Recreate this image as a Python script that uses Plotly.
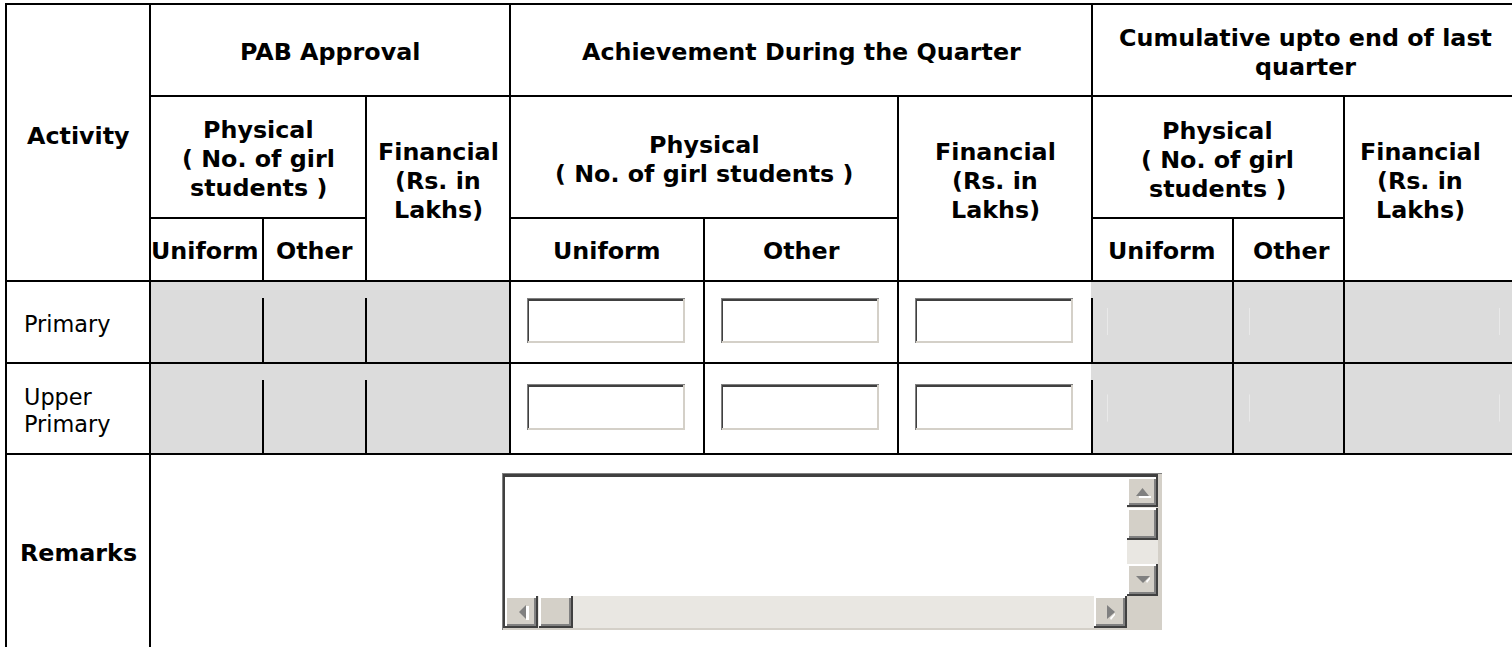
import plotly.graph_objects as go

# ---------------- table content ----------------
group_headers = [["PAB Approval"], ["Achievement During the Quarter"],
                 ["Cumulative upto end of last", "quarter"]]
physical_headers = [["Physical", "( No. of girl", "students )"],
                    ["Physical", "( No. of girl students )"],
                    ["Physical", "( No. of girl", "students )"]]
financial_header = ["Financial", "(Rs. in", "Lakhs)"]
sub_headers = ["Uniform", "Other"]
activity_label = "Activity"
row_labels = [["Primary"], ["Upper", "Primary"]]
remarks_label = "Remarks"

# ---------------- layout geometry (pixels) ----------------
W, H = 1512, 647
X_L, X_ACT = 6, 150
GROUPS = [(150, 263, 366, 510), (510, 704, 898, 1092), (1092, 1233, 1344, 1512)]
Y_TOP, Y_H1, Y_H2, Y_H3 = 4, 96, 218, 281
ROWS = [(281, 363), (363, 454)]
GRAY = "#dcdcdc"
FACE = "#d4d0c8"
DARK = "#404040"
MID = "#808080"
TRACK = "#e9e7e2"
FONT = "DejaVu Sans"
BOLD_SIZE = 23.8
REG_SIZE = 22.4

shapes = []
annotations = []


def box(x0, y0, x1, y1, color):
    shapes.append(dict(type="rect", xref="x", yref="y", x0=x0, y0=y0, x1=x1, y1=y1,
                       fillcolor=color, line=dict(width=0), layer="above"))


def vline(x, y0, y1):
    box(x - 1, y0 - 1, x + 1, y1 + 1, "black")


def hline(y, x0, x1):
    box(x0 - 1, y - 1, x1 + 1, y + 1, "black")


def tri(points, color):
    path = "M " + " L ".join(f"{px},{py}" for px, py in points) + " Z"
    shapes.append(dict(type="path", xref="x", yref="y", path=path, fillcolor=color,
                       line=dict(width=0), layer="above"))


def text(x, y, s, bold=True, anchor="center"):
    annotations.append(dict(x=x, y=y, xref="x", yref="y", text=(f"<b>{s}</b>" if bold else s),
                            showarrow=False, xanchor=anchor, yanchor="middle",
                            font=dict(family=FONT, size=(BOLD_SIZE if bold else REG_SIZE),
                                      color="black")))


def lines(x, ys, parts, bold=True, anchor="center"):
    for y, s in zip(ys, parts):
        text(x, y, s, bold, anchor)


# gray (disabled) cells
for (r0, r1) in ROWS:
    box(GROUPS[0][0], r0, GROUPS[0][3], r1, GRAY)
    box(GROUPS[2][0], r0, W + 2, r1, GRAY)

# grid lines
hline(Y_TOP, X_L, W + 2)
hline(Y_H1, X_ACT, W + 2)
for g in GROUPS:
    hline(Y_H2, g[0], g[2])
hline(Y_H3, X_L, W + 2)
for (r0, r1) in ROWS:
    hline(r1, X_L, W + 2)
vline(X_L, Y_TOP, H + 2)
vline(X_ACT, Y_TOP, H + 2)
for g in GROUPS:
    vline(g[0], Y_TOP, ROWS[-1][1])
    vline(g[2], Y_H1, ROWS[-1][1])
    vline(g[1], Y_H2, ROWS[-1][1])

# vertical lines hidden at top of gray cells
for (r0, r1) in ROWS:
    for xg in (GROUPS[0][1], GROUPS[0][2]):
        box(xg - 1, r0 + 1, xg + 1, r0 + 17, GRAY)
    box(GROUPS[2][0] - 1, r0 + 1, GROUPS[2][0] + 1, r0 + 17, GRAY)
    # faint edges of disabled inputs
    yc = (r0 + r1) / 2
    for xf in (1107, 1249, 1499):
        box(xf, yc - 14, xf + 1, yc + 13, "#e9e9e9")

# input boxes in achievement columns
for (r0, r1) in ROWS:
    yc = (r0 + r1) / 2
    y0, y1 = round(yc - 24), round(yc + 21)
    g = GROUPS[1]
    for (c0, c1) in ((g[0], g[1]), (g[1], g[2]), (g[2], g[3])):
        x0, x1 = c0 + 17, c1 - 19
        box(x0, y0, x1, y1, "white")
        box(x0, y0, x1, y0 + 1, MID)
        box(x0 + 1, y0 + 1, x1 - 1, y0 + 3, DARK)
        box(x0, y0, x0 + 1, y1, MID)
        box(x0 + 1, y0 + 1, x0 + 2, y1 - 1, DARK)
        box(x0 + 1, y1 - 2, x1, y1, FACE)
        box(x1 - 2, y0 + 1, x1, y1, FACE)

# ---------------- remarks textarea ----------------
TX0, TY0, TX1, TY1 = 502, 473, 1162, 630
box(TX0, TY0, TX1, TY1, "white")
box(TX0, TY0, TX1, TY0 + 1, MID)
box(TX0, TY0, TX0 + 1, TY1, MID)
box(TX0 + 1, TY0 + 1, TX1 - 2, TY0 + 4, DARK)
box(TX0 + 1, TY0 + 1, TX0 + 3, TY1 - 2, DARK)
box(TX1 - 4, TY0 + 1, TX1, TY1, FACE)
box(TX0 + 1, TY1 - 2, TX1, TY1, FACE)

SB0, SB1 = 1127, 1158          # vertical scrollbar x-range
HB0, HB1 = 596, 628            # horizontal scrollbar y-range


def button(x0, y0, x1, y1):
    box(x0, y0, x1, y1, DARK)
    box(x0, y0, x1 - 2, y1 - 2, "white")
    box(x0 + 2, y0 + 2, x1 - 2, y1 - 2, MID)
    box(x0 + 2, y0 + 2, x1 - 4, y1 - 4, FACE)


# vertical scrollbar
box(SB0, 477, SB1, HB0, TRACK)
button(SB0, 477, SB1, 507)
button(SB0, 508, SB1, 540)
button(SB0, 564, SB1, HB0)
# horizontal scrollbar
box(505, HB0, SB0, HB1, TRACK)
button(505, HB0, 538, HB1)
button(539, HB0, 573, HB1)
button(1094, HB0, SB0, HB1)
box(SB0, HB0, TX1, TY1, FACE)

# arrows (disabled look: gray with white shadow)
tri([(1136, 496), (1149, 496), (1142.5, 488)], MID)
box(1139, 496, 1151, 498, "white")
tri([(1136, 576), (1150, 576), (1143, 583)], MID)
tri([(1146, 581), (1150, 577), (1150, 579), (1147, 583)], "white")
tri([(526, 605), (526, 619), (519, 612)], MID)
box(526, 606, 529, 620, "white")
tri([(1107, 605), (1107, 619), (1115, 612)], MID)
tri([(1110, 618), (1115, 613), (1115, 615), (1111, 620)], "white")

# ---------------- text ----------------
text(78, 136, activity_label)
header_x = [330, 801, 1305]
header_y = [[52], [52], [38, 67]]
for gx, gy, parts in zip(header_x, header_y, group_headers):
    lines(gx, gy, parts)
phys_x = [258, 704, 1217]
phys_y = [[130, 159, 188], [145, 174], [131, 160, 189]]
fin_x = [438, 995, 1420]
fin_y = [152, 181, 210]
sub_x = [[205, 314.5], [607, 801], [1162, 1291]]
for i in range(3):
    lines(phys_x[i], phys_y[i], physical_headers[i])
    lines(fin_x[i], fin_y, financial_header)
    for x, s in zip(sub_x[i], sub_headers):
        text(x, 251, s)
lines(22, [324], row_labels[0], bold=False, anchor="left")
lines(22, [396.5, 423.5], row_labels[1], bold=False, anchor="left")
text(78, 553, remarks_label)

fig = go.Figure()
fig.update_layout(
    width=W, height=H, margin=dict(l=0, r=0, t=0, b=0),
    paper_bgcolor="white", plot_bgcolor="white",
    xaxis=dict(range=[0, W], visible=False, fixedrange=True),
    yaxis=dict(range=[H, 0], visible=False, fixedrange=True),
    shapes=shapes, annotations=annotations, showlegend=False,
)
fig.write_html("out.html", config={"displayModeBar": False},
               post_script="document.body.style.margin='0';document.body.style.overflow='hidden';")
